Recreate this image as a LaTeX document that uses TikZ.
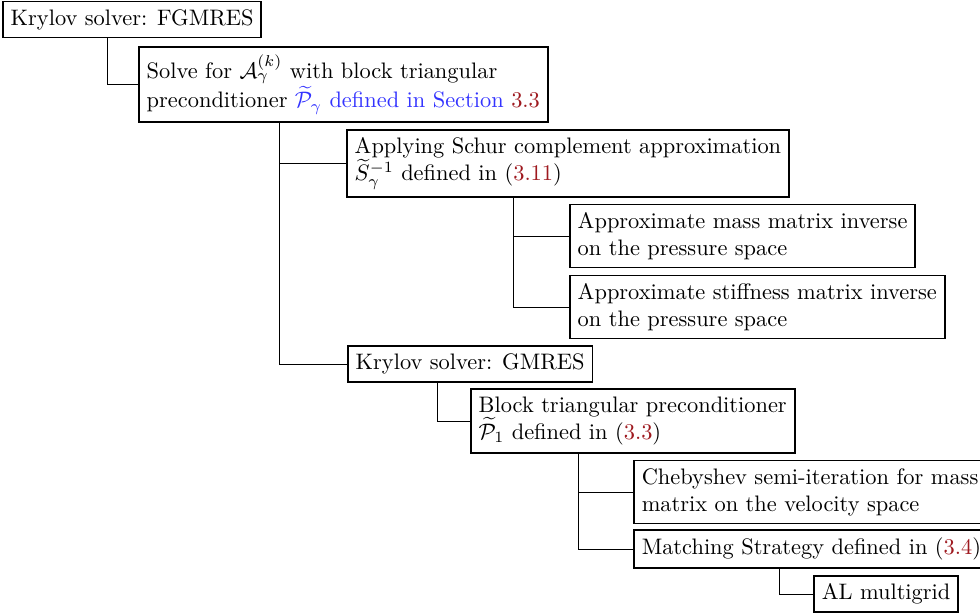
\documentclass[tikz,border=0pt]{standalone}
\usepackage{amsmath,amssymb}
\usepackage{tikz}
\usetikzlibrary{positioning,calc}
\definecolor{cLink}{rgb}{0.62,0.1,0.12}
\definecolor{cCite}{rgb}{0.2,0.2,1}
\tikzset{
  solver/.style={draw, thick, anchor=west, align=left, inner sep=3.5pt},
  br/.style={thin},
}
\newcommand{\lnk}[1]{{\color{cLink}#1}}

\begin{document}
\begin{tikzpicture}[x=0.4464pt, y=-0.4464pt]
    \clip (0,0) rectangle (980,613);
    % outer solver
    \node[solver] (fgmres) at (2,19.5) {Krylov solver: FGMRES};
    \node[solver] (solve) at (138,84.5)
      {Solve for $\mathcal{A}_\gamma^{(k)}$ with block triangular\\
       preconditioner {\color{cCite}$\widetilde{\mathcal{P}}_\gamma$ defined in Section} \lnk{3.3}};
    % schur complement branch
    \node[solver] (schur) at (346,163.5)
      {Applying Schur complement approximation\\ $\widetilde{S}_\gamma^{-1}$ defined in (\lnk{3.11})};
    \node[solver] (mass) at (569,236)
      {Approximate mass matrix inverse\\ on the pressure space};
    \node[solver] (stiff) at (569,307)
      {Approximate stiffness matrix inverse\\ on the pressure space};
    % inner solver
    \node[solver] (gmres) at (347,364) {Krylov solver: GMRES};
    \node[solver] (btri) at (470,421)
      {Block triangular preconditioner\\ $\widetilde{\mathcal{P}}_1$ defined in (\lnk{3.3})};
    \node[solver] (cheb) at (633,492)
      {Chebyshev semi-iteration for mass\\ matrix on the velocity space};
    \node[solver] (match) at (633,549) {Matching Strategy defined in (\lnk{3.4})};
    \node[solver] (almg) at (813,594) {AL multigrid};

    \draw[br] ($(fgmres.south west)+(105,0)$) |- (solve.west);
    \draw[br] ($(solve.south west)+(141,0)$) |- (schur.west);
    \draw[br] ($(solve.south west)+(141,0)$) |- (gmres.west);
    \draw[br] ($(schur.south west)+(167,0)$) |- (mass.west);
    \draw[br] ($(schur.south west)+(167,0)$) |- (stiff.west);
    \draw[br] ($(gmres.south west)+(90,0)$) |- (btri.west);
    \draw[br] ($(btri.south west)+(108,0)$) |- (cheb.west);
    \draw[br] ($(btri.south west)+(108,0)$) |- (match.west);
    \draw[br] ($(match.south west)+(146,0)$) |- (almg.west);
  \end{tikzpicture}
\end{document}
